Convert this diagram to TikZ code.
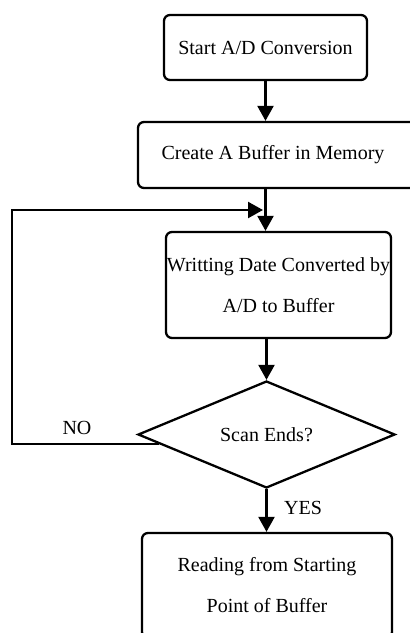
\documentclass[tikz,border=0pt]{standalone}
\usepackage{fontspec}
\setmainfont{Liberation Serif}
\usetikzlibrary{shapes.geometric,arrows.meta,calc}
\begin{document}
\begin{tikzpicture}[x=1pt,y=-1pt,
  line width=2.3pt,
  every node/.style={font=\fontsize{20}{41}\selectfont},
  box/.style={draw, rounded corners=6pt, inner sep=0pt, align=center},
  dec/.style={draw, diamond, inner sep=0pt, minimum width=257pt, minimum height=107pt, aspect=2.4},
  arr/.style={-{Triangle[width=16pt,length=15pt]}},
  lbl/.style={inner sep=0pt}]
\useasboundingbox (0,0) rectangle (410,633);
\clip (0,0) rectangle (410,633);
\node[box, minimum width=203pt, minimum height=65pt] (b1) at (265.5,47.5) {Start A/D Conversion};
\node[box, minimum width=278pt, minimum height=66pt] (b2) at (277,155) {Create A Buffer in Memory\hspace*{8pt}};
\node[box, minimum width=225pt, minimum height=106pt] (b3) at (278.5,285) {Writting Date Converted by\\A/D to Buffer};
\node[dec] (d) at (266.5,434.5) {Scan Ends?};
\node[box, minimum width=250pt, minimum height=105pt] (b4) at (267,585.5) {Reading from Starting\\Point of Buffer};
\node[lbl] (no) at (77,428) {NO};
\node[lbl] (yes) at (303,508) {YES};
\coordinate (nostart) at ($(d.west)!0.17!(d.south)$);
\coordinate (loopend) at (263,210);
\coordinate (loopcorner) at (12,210);
\draw[arr] (b1.south) -- (b1.south |- b2.north);
\draw[arr] (b1.south |- b2.south) -- (b1.south |- b3.north);
\draw[arr] (d.north |- b3.south) -- (d.north);
\draw[arr] (d.south) -- (d.south |- b4.north);
\draw[arr] (nostart) -| (loopcorner) -- (loopend);
\end{tikzpicture}
\end{document}
